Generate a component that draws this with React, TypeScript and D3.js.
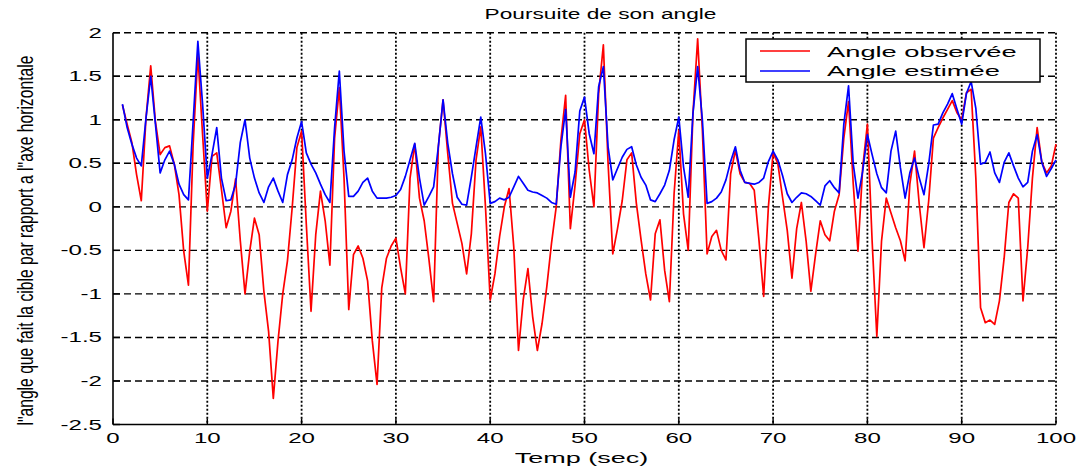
import React from 'react';
import * as d3 from 'd3';

// Sampling: first sample at t = 1 s, one sample every 0.5 s up to t = 100 s
const SAMPLE_START = 1;
const SAMPLE_STEP = 0.5;

// "Angle observée" (red)
const observed: number[] = [
  1.17, 0.95, 0.74, 0.37, 0.07, 1.02, 1.62, 0.98, 0.6, 0.68,
  0.7, 0.49, 0.14, -0.51, -0.9, 0.72, 1.75, 0.83, -0.05, 0.58,
  0.62, 0.2, -0.24, -0.05, 0.32, -0.39, -1.0, -0.51, -0.13, -0.32,
  -0.97, -1.43, -2.2, -1.54, -1.0, -0.62, -0.01, 0.68, 0.87, -0.2,
  -1.2, -0.32, 0.18, -0.16, -0.67, 0.79, 1.37, 0.33, -1.18, -0.55,
  -0.45, -0.59, -0.85, -1.54, -2.04, -0.93, -0.59, -0.45, -0.36, -0.7,
  -1.0, 0.33, 0.72, 0.1, -0.16, -0.6, -1.09, 0.69, 1.23, 0.61,
  0.04, -0.19, -0.42, -0.77, -0.31, 0.54, 0.92, 0.0, -1.07, -0.77,
  -0.34, 0.0, 0.21, -0.46, -1.65, -1.07, -0.71, -1.26, -1.65, -1.34,
  -0.92, -0.42, 0.0, 0.77, 1.28, -0.25, 0.25, 0.84, 1.0, 0.42,
  0.0, 1.3, 1.86, 0.5, -0.54, -0.25, 0.07, 0.54, 0.62, 0.04,
  -0.38, -0.77, -1.07, -0.31, -0.15, -0.73, -1.09, 0.15, 0.88, -0.08,
  -0.5, 1.07, 1.93, 0.88, -0.54, -0.34, -0.27, -0.5, -0.61, 0.38,
  0.65, 0.38, 0.28, 0.27, 0.19, -0.38, -1.03, 0.0, 0.62, 0.5,
  0.11, -0.27, -0.82, -0.25, 0.05, -0.39, -0.97, -0.55, -0.16, -0.32,
  -0.39, -0.05, 0.14, 0.79, 1.21, 0.26, -0.51, 0.45, 0.95, -0.39,
  -1.49, -0.39, 0.1, -0.07, -0.24, -0.39, -0.62, 0.26, 0.64, 0.03,
  -0.47, 0.07, 0.79, 0.91, 1.02, 1.12, 1.22, 1.08, 1.0, 1.31,
  1.35, 0.33, -1.16, -1.33, -1.3, -1.35, -1.08, -0.59, 0.05, 0.15,
  0.1, -1.08, -0.47, 0.33, 0.91, 0.51, 0.39, 0.47, 0.72,
];

// "Angle estimée" (blue)
const estimated: number[] = [
  1.18, 0.91, 0.72, 0.56, 0.47, 1.02, 1.5, 0.95, 0.39, 0.54,
  0.64, 0.49, 0.26, 0.14, 0.08, 0.98, 1.9, 1.18, 0.33, 0.6,
  0.91, 0.33, 0.07, 0.08, 0.26, 0.74, 1.0, 0.56, 0.33, 0.16,
  0.05, 0.23, 0.33, 0.18, 0.05, 0.37, 0.54, 0.79, 0.98, 0.62,
  0.49, 0.39, 0.26, 0.14, 0.05, 0.91, 1.56, 0.64, 0.12, 0.12,
  0.18, 0.28, 0.33, 0.18, 0.1, 0.1, 0.1, 0.11, 0.13, 0.2,
  0.35, 0.54, 0.73, 0.33, 0.02, 0.12, 0.23, 0.69, 1.23, 0.73,
  0.38, 0.11, 0.03, 0.02, 0.34, 0.69, 1.03, 0.61, 0.04, 0.06,
  0.1, 0.08, 0.11, 0.23, 0.35, 0.27, 0.19, 0.17, 0.16, 0.13,
  0.1, 0.05, 0.03, 0.69, 1.12, 0.11, 0.4, 1.1, 1.26, 0.84,
  0.61, 1.38, 1.61, 0.69, 0.31, 0.44, 0.57, 0.66, 0.69, 0.48,
  0.34, 0.25, 0.08, 0.06, 0.15, 0.25, 0.42, 0.77, 1.03, 0.46,
  0.11, 1.07, 1.61, 1.0, 0.04, 0.06, 0.1, 0.17, 0.31, 0.52,
  0.69, 0.42, 0.28, 0.27, 0.26, 0.28, 0.33, 0.52, 0.64, 0.54,
  0.36, 0.15, 0.05, 0.11, 0.16, 0.15, 0.12, 0.07, 0.02, 0.24,
  0.3, 0.22, 0.16, 0.95, 1.39, 0.49, 0.1, 0.41, 0.83, 0.6,
  0.38, 0.22, 0.16, 0.64, 0.87, 0.45, 0.1, 0.39, 0.56, 0.33,
  0.14, 0.49, 0.94, 0.95, 1.08, 1.18, 1.3, 1.12, 0.95, 1.3,
  1.44, 1.13, 0.49, 0.51, 0.63, 0.39, 0.28, 0.51, 0.62, 0.47,
  0.33, 0.23, 0.28, 0.64, 0.83, 0.51, 0.35, 0.44, 0.54,
];

const xTicks = [0, 10, 20, 30, 40, 50, 60, 70, 80, 90, 100];
const yTicks = [-2.5, -2, -1.5, -1, -0.5, 0, 0.5, 1, 1.5, 2];
const xDomain = [0, 100];
const yDomain = [-2.5, 2];

const titleText = 'Poursuite de son angle';
const xLabelText = 'Temp (sec)';
const yLabelText = 'l"angle que fait la cible par rapport a l"axe horizontale';
const legendLabels = ['Angle observée', 'Angle estimée'];
const seriesColors = ['#ff0000', '#0000ff'];

const FONT = '"Liberation Sans", Arial, Helvetica, sans-serif';

export default function App() {
  const W = 1082;
  const H = 470;
  const left = 113;
  const right = 1056;
  const top = 32.7;
  const bottom = 424.5;

  const x = d3.scaleLinear().domain(xDomain).range([left, right]);
  const y = d3.scaleLinear().domain(yDomain).range([bottom, top]);

  const line = d3
    .line<number>()
    .x((_, i) => x(SAMPLE_START + i * SAMPLE_STEP))
    .y((d) => y(d));

  const series = [observed, estimated];
  const sx = 1.72; // horizontal stretch of the original figure's text

  return (
    <svg
      width={W}
      height={H}
      style={{ position: 'absolute', left: 0, top: 0, background: '#fff' }}
      fontFamily={FONT}
    >
      <rect x={0} y={0} width={W} height={H} fill="#fff" />

      {/* horizontal dashed grid */}
      {yTicks
        .filter((v) => v !== yDomain[0])
        .map((v) => (
          <line
            key={'hg' + v}
            x1={left}
            x2={right}
            y1={y(v)}
            y2={y(v)}
            stroke="#000"
            strokeWidth={1.4}
            strokeDasharray="7,4"
          />
        ))}
      {/* vertical dotted grid */}
      {xTicks
        .filter((v) => v !== xDomain[0])
        .map((v) => (
          <line
            key={'vg' + v}
            x1={x(v)}
            x2={x(v)}
            y1={top}
            y2={bottom}
            stroke="#000"
            strokeWidth={1.8}
            strokeDasharray="2,2"
          />
        ))}

      {/* axes */}
      <line x1={left} x2={left} y1={top} y2={bottom} stroke="#000" strokeWidth={1.6} />
      <line x1={left} x2={right} y1={bottom} y2={bottom} stroke="#000" strokeWidth={1.6} />
      {yTicks.map((v) => (
        <line key={'yt' + v} x1={left} x2={left + 7} y1={y(v)} y2={y(v)} stroke="#000" strokeWidth={1.4} />
      ))}
      {xTicks.map((v) => (
        <line key={'xt' + v} x1={x(v)} x2={x(v)} y1={bottom} y2={bottom - 6} stroke="#000" strokeWidth={1.4} />
      ))}

      {/* series */}
      {series.map((s, k) => (
        <path
          key={'s' + k}
          d={line(s) || ''}
          fill="none"
          stroke={seriesColors[k]}
          strokeWidth={1.7}
          strokeLinejoin="round"
        />
      ))}

      {/* tick labels */}
      {yTicks.map((v) => (
        <text
          key={'yl' + v}
          transform={`translate(${left - 11},${y(v) + 5}) scale(${sx},1)`}
          textAnchor="end"
          fontSize={14}
          fill="#000"
        >
          {String(v)}
        </text>
      ))}
      {xTicks.map((v) => (
        <text
          key={'xl' + v}
          transform={`translate(${x(v)},${bottom + 18}) scale(${sx},1)`}
          textAnchor="middle"
          fontSize={14}
          fill="#000"
        >
          {String(v)}
        </text>
      ))}

      {/* title and axis labels */}
      <text
        transform={`translate(${(left + right) / 2 + 16},${19}) scale(1.62,1)`}
        textAnchor="middle"
        fontSize={14}
        fill="#000"
      >
        {titleText}
      </text>
      <text
        transform={`translate(${(left + right) / 2 - 3},${bottom + 38}) scale(1.8,1)`}
        textAnchor="middle"
        fontSize={15}
        fill="#000"
      >
        {xLabelText}
      </text>
      <text
        transform={`translate(33,${(top + bottom) / 2 + 12}) scale(1.6,1) rotate(-90)`}
        textAnchor="middle"
        fontSize={14}
        fill="#000"
        textLength={370}
        lengthAdjust="spacingAndGlyphs"
      >
        {yLabelText}
      </text>

      {/* legend */}
      <rect x={746} y={39} width={294} height={43} fill="#fff" stroke="#000" strokeWidth={1.5} />
      {legendLabels.map((lab, k) => (
        <g key={'lg' + k}>
          <line
            x1={760}
            x2={810}
            y1={51 + k * 20}
            y2={51 + k * 20}
            stroke={seriesColors[k]}
            strokeWidth={1.4}
          />
          <text
            transform={`translate(827,${56.5 + k * 19}) scale(1.82,1)`}
            fontSize={15}
            fill="#000"
          >
            {lab}
          </text>
        </g>
      ))}
    </svg>
  );
}
